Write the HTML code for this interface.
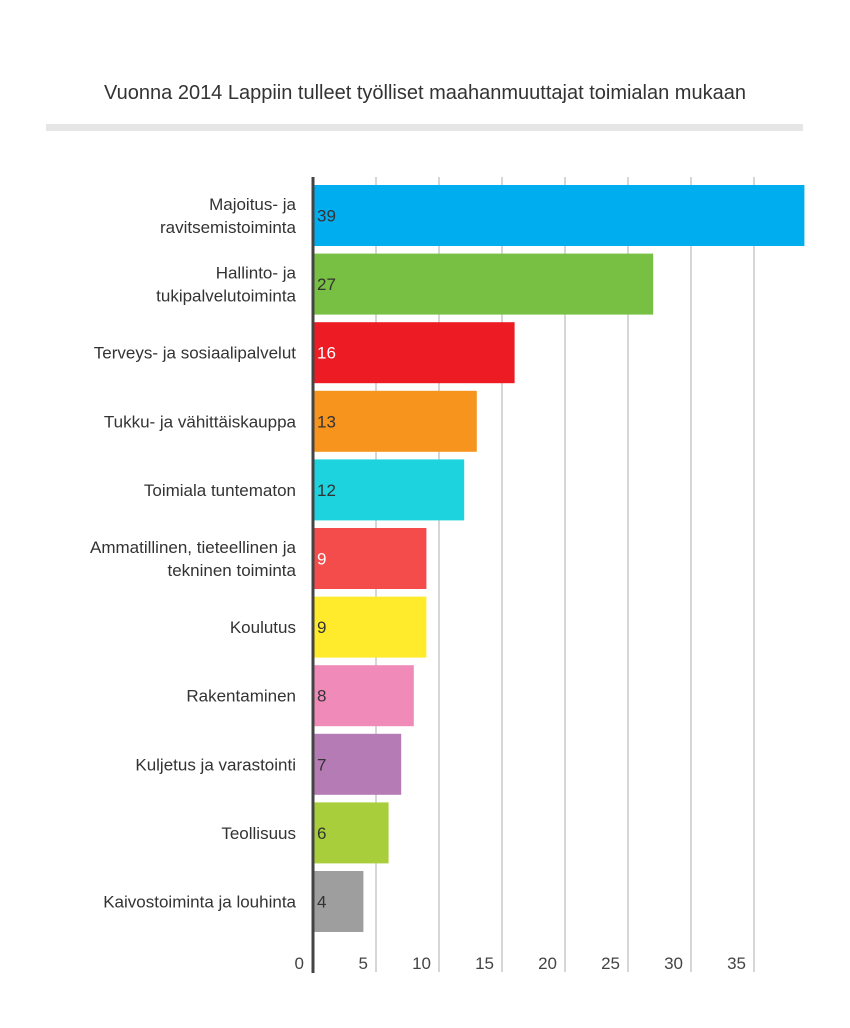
<!DOCTYPE html>
<html><head><meta charset="utf-8"><style>
body{margin:0;background:#fff;}
svg text{font-family:"Liberation Sans",sans-serif;}
</style></head><body>
<svg width="850" height="1023" viewBox="0 0 850 1023">
<text x="425" y="99" text-anchor="middle" font-size="20" fill="#333">Vuonna 2014 Lappiin tulleet työlliset maahanmuuttajat toimialan mukaan</text>
<rect x="46" y="124" width="757" height="7" fill="#e6e6e6"/>
<g id="grid"></g><g id="bars"></g><g id="axis"></g>
</svg>
<script>
const categories=[["Majoitus- ja","ravitsemistoiminta"],["Hallinto- ja","tukipalvelutoiminta"],["Terveys- ja sosiaalipalvelut"],["Tukku- ja vähittäiskauppa"],["Toimiala tuntematon"],["Ammatillinen, tieteellinen ja","tekninen toiminta"],["Koulutus"],["Rakentaminen"],["Kuljetus ja varastointi"],["Teollisuus"],["Kaivostoiminta ja louhinta"]];
const values=[39,27,16,13,12,9,9,8,7,6,4];
const colors=["#00aeef","#77c043","#ed1c24","#f7941d","#1cd3de","#f44b4b","#ffeb2b","#f08bb9","#b57bb5","#a8cf3b","#9e9e9e"];
const valueTextColors=["#333","#333","#fff","#333","#333","#fff","#333","#333","#333","#333","#333"];
const ticks=[0,5,10,15,20,25,30,35];
const NS="http://www.w3.org/2000/svg";
const x0=313,pxPer=12.6,yTop=185,pitch=68.6,bh=61;
const xs=v=>x0+v*pxPer;
const ys=i=>yTop+i*pitch;
function mk(t,a,p){const e=document.createElementNS(NS,t);for(const k in a)e.setAttribute(k,a[k]);p.appendChild(e);return e;}
const grid=document.getElementById('grid'),bars=document.getElementById('bars'),axis=document.getElementById('axis');
ticks.forEach(t=>{
 if(t>0){const l=mk('line',{x1:xs(t),x2:xs(t),y1:177,y2:972,stroke:'#bbb','stroke-width':1.2},grid);
 
 }
 const tx=mk('text',{x:t==0?xs(t)-9:xs(t)-8,y:969,'text-anchor':'end','font-size':17,fill:'#444'},axis);
 tx.textContent=t;
 
 
});
values.forEach((v,i)=>{
 const r=mk('rect',{x:x0+1,y:ys(i),width:xs(v)-x0-1,height:bh,fill:colors[i]},bars);
 
 
 const vt=mk('text',{x:x0+4,y:ys(i)+bh/2+6,'font-size':17,fill:valueTextColors[i]},bars);
 vt.textContent=v;
 
 
 const lines=categories[i];
 const lt=mk('text',{'text-anchor':'end','font-size':17,fill:'#333'},bars);
 
 
 lines.forEach((s,j)=>{const ts=mk('tspan',{x:296,y:ys(i)+bh/2+6+(j-(lines.length-1)/2)*23},lt);ts.textContent=s;});
});
const ax=mk('line',{x1:x0,x2:x0,y1:177,y2:973,stroke:'#444','stroke-width':3},axis);


</script>
</body></html>
